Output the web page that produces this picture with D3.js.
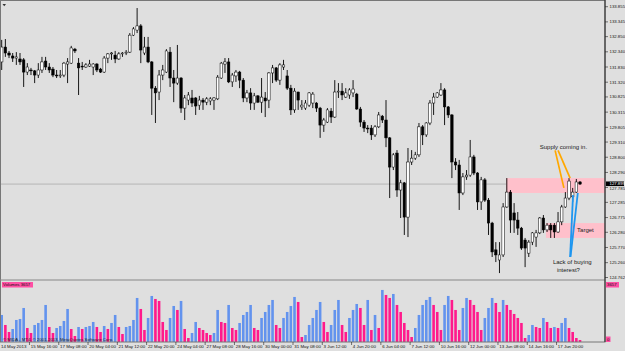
<!DOCTYPE html>
<html>
<head>
<meta charset="utf-8">
<script src="https://cdnjs.cloudflare.com/ajax/libs/d3/7.8.5/d3.min.js"></script>
<style>
	body { margin: 0; background: #dfdfdf; }
	svg { display: block; font-family: "Liberation Sans", Arial, sans-serif; }
</style>
</head>
<body>
<svg id="chart" width="625" height="351"></svg>
<script>
// USDJPY-ish H4 candles, 14 May - 17 Jun 2013
let open = [132.00,132.50,132.30,132.20,132.13,132.10,132.07,131.66,131.73,131.70,
	131.56,131.73,132.03,131.83,131.76,131.56,131.53,131.56,131.93,131.96,
	132.43,131.96,131.86,131.83,131.86,131.83,131.93,131.76,131.66,132.13,
	132.27,132.23,132.10,132.27,132.30,132.33,132.90,133.07,133.21,132.30,
	132.50,132.00,131.12,130.99,131.56,131.66,132.33,131.46,131.29,131.46,
	130.45,130.72,130.79,130.79,130.55,130.72,130.65,130.69,130.72,130.76,
	131.46,131.93,132.00,131.33,131.53,131.66,131.39,130.79,130.96,130.62,
	130.86,130.65,130.79,130.72,131.63,131.80,131.39,131.83,131.53,131.12,
	130.39,130.99,130.49,130.45,130.55,130.62,130.62,130.45,129.88,129.98,
	130.35,130.15,130.99,131.02,130.82,130.89,130.96,130.92,130.42,129.98,
	129.78,129.78,129.55,129.82,130.18,130.05,129.45,128.47,128.94,127.70,
	127.94,126.79,128.64,128.77,128.88,129.82,129.55,129.95,130.62,130.82,
	130.89,131.06,130.49,130.22,128.64,128.54,127.60,128.14,128.20,128.81,
	128.27,127.30,128.04,127.36,126.59,125.69,125.35,125.52,127.13,127.63,
	126.93,126.69,126.42,126.02,125.58,125.95,126.12,126.26,126.76,126.36,
	126.52,126.52,126.29,126.63,127.13,127.43,127.47,127.63,127.97];

let high = [132.74,132.77,132.37,132.30,132.33,132.30,132.13,131.96,131.80,131.73,
	131.96,132.17,132.17,131.96,131.83,131.73,131.73,132.00,132.13,132.54,
	132.47,132.13,132.00,131.96,132.07,131.96,131.96,131.80,132.20,132.30,
	132.33,132.37,132.33,132.33,132.40,132.97,133.17,133.81,133.27,132.84,
	132.84,132.03,131.19,131.73,131.90,132.43,132.50,131.73,132.57,131.49,
	130.89,130.99,131.06,130.82,130.86,130.79,130.82,130.82,130.82,131.56,
	132.00,132.13,132.13,131.63,131.73,131.70,131.46,131.06,131.12,130.96,
	130.89,131.46,130.99,131.66,131.90,131.83,131.96,132.07,131.73,131.23,
	131.12,131.00,130.72,130.72,130.99,130.99,130.65,130.49,130.12,130.45,
	130.45,131.39,131.29,131.29,131.12,131.12,131.39,130.96,130.49,130.05,
	129.88,129.88,129.88,130.32,130.22,130.72,129.48,128.94,129.04,128.04,
	127.97,129.11,129.04,128.98,129.95,129.88,129.98,130.72,130.96,130.99,
	131.29,131.12,130.52,130.25,128.77,128.71,128.27,128.37,129.38,128.88,
	128.30,128.14,128.10,127.43,126.63,125.95,125.95,127.26,128.10,127.70,
	127.26,126.96,126.46,126.09,126.02,126.29,126.36,126.79,126.86,126.59,
	126.59,126.59,126.96,127.20,127.63,128.10,127.77,128.07,128.00];

let low = [131.73,132.17,132.13,132.00,131.90,131.90,131.16,131.56,131.56,131.29,
	131.46,131.63,131.73,131.63,131.49,131.46,131.46,131.49,131.29,131.93,
	132.30,130.89,131.73,131.80,131.83,131.56,131.66,131.63,131.63,131.96,
	132.07,131.96,132.07,132.17,132.23,132.30,132.87,132.97,131.96,132.23,
	131.96,130.22,129.95,130.72,131.39,131.63,131.16,130.65,131.23,130.29,
	130.05,130.55,130.49,130.22,130.39,130.39,130.55,130.55,130.39,130.72,
	131.43,131.63,131.29,131.16,131.33,131.12,130.65,130.65,130.39,130.39,
	130.62,130.29,130.15,130.45,131.29,131.33,131.23,131.73,131.06,130.22,
	130.29,130.39,130.39,130.39,130.49,130.45,130.32,129.45,129.65,129.95,
	129.95,130.12,130.79,130.72,130.79,130.76,130.82,130.39,129.82,129.65,
	129.61,129.38,129.48,129.78,129.95,129.14,127.43,128.37,127.47,126.76,
	126.19,126.12,128.54,128.71,128.81,129.21,129.48,129.88,130.22,130.79,
	130.86,129.88,130.12,128.10,128.37,127.03,127.53,128.04,128.14,128.20,
	127.03,127.03,127.30,126.19,125.45,125.28,124.91,125.45,127.10,126.26,
	126.26,126.19,125.69,125.11,125.45,125.85,125.79,126.22,126.26,126.29,
	126.09,126.09,126.26,126.52,127.10,127.36,127.30,127.60,127.87];

let close = [132.50,132.30,132.23,132.13,132.17,132.00,131.66,131.83,131.70,131.56,
	131.73,132.00,131.83,131.73,131.56,131.53,131.56,131.96,132.00,132.47,
	132.37,131.80,131.83,131.90,131.93,131.93,131.73,131.66,132.13,132.27,
	132.30,132.10,132.27,132.30,132.33,132.90,133.11,133.21,132.40,132.50,
	132.00,131.12,130.96,131.56,131.73,132.37,131.46,131.29,131.46,130.45,
	130.79,130.89,130.62,130.52,130.72,130.65,130.76,130.76,130.79,131.49,
	131.96,132.00,131.33,131.56,131.66,131.39,130.79,130.96,130.62,130.86,
	130.65,130.82,130.69,131.63,131.80,131.39,131.90,131.90,131.12,130.39,
	131.02,130.72,130.55,130.62,130.96,130.92,130.45,129.88,130.05,130.39,
	130.15,130.99,131.02,130.89,130.96,131.06,131.09,130.42,129.98,129.78,
	129.75,129.55,129.82,130.22,130.05,129.45,128.47,128.88,127.70,127.94,
	126.79,128.64,128.77,128.88,129.82,129.55,129.95,130.62,130.82,130.96,
	131.06,130.49,130.22,128.64,128.54,127.60,128.14,128.20,128.81,128.27,
	127.30,128.04,127.36,126.59,125.62,125.52,125.52,127.13,127.63,126.69,
	126.69,126.42,125.75,125.75,125.95,126.26,126.26,126.76,126.36,126.52,
	126.36,126.29,126.63,127.13,127.43,128.00,127.63,127.97,127.90];

let volume = [1620,1020,600,780,1320,1380,2040,840,540,1020,
	1140,1320,2220,900,540,840,960,1260,1980,780,
	360,900,780,900,960,1200,900,600,960,780,
	1140,1620,900,480,900,960,1320,2640,1980,720,
	1440,2760,2580,2460,1200,720,1440,2160,1920,2460,
	780,240,540,1200,840,720,540,420,540,1920,
	1200,1140,2220,840,720,1140,1620,1800,2220,840,
	720,1440,1800,2220,2520,1020,840,1440,1800,2160,
	2700,2400,300,420,1020,1440,1920,2400,1200,600,
	1020,1920,2520,1020,600,1440,1920,2280,2040,1020,
	2520,720,1620,840,3120,2820,2640,2880,2220,1800,
	1140,720,300,840,1620,2220,2520,2700,2220,1800,
	720,2220,2760,2520,1920,720,2040,2640,2520,2220,
	1800,720,1440,2040,2640,2340,1800,2520,2220,1920,
	1680,1440,1140,240,420,1020,900,840,1440,1200,
	840,900,840,1140,1440,840,600,240,120];

// one time label every 8 bars
let timeLabels = ["14 May 2013","15 May 16:00","17 May 08:00","20 May 04:00","21 May 12:00",
	"22 May 20:00","24 May 04:00","27 May 08:00","28 May 16:00","30 May 00:00",
	"31 May 08:00","3 Jun 12:00","4 Jun 20:00","6 Jun 04:00","7 Jun 12:00",
	"10 Jun 16:00","12 Jun 00:00","13 Jun 08:00","14 Jun 16:00","17 Jun 20:00"];

let priceTicks = [133.855,133.345,132.850,132.340,131.830,131.320,130.825,130.315,129.805,
	129.310,128.800,128.290,127.785,127.285,126.775,126.280,125.770,125.260,124.762];

let lastPrice = 127.899;
let volMax = 3657;

// zones drawn on the chart (bar index where they start, price top/bottom)
let supplyZone = {from: 137.8, top: 128.10, bottom: 127.60};
let targetZone = {from: 148.7, top: 126.59, bottom: 126.09};

let axisX = 605;
let mainH = 279;
let volTop = 281, volBot = 342;

let x = d3.scaleLinear().domain([0, close.length - 1]).range([1.7, 580]);
let y = d3.scaleLinear().domain([124.762, 133.855]).range([277.5, 6.7]);
let yv = d3.scaleLinear().domain([0, volMax]).range([volBot, volTop]);

let bars = close.map((c, i) => ({i: i, o: open[i], h: high[i], l: low[i], c: c, v: volume[i]}));

// tiny MT4 fonts: draw at double size and scale down, hinting makes small sizes too wide
function tiny(px, py) { return `translate(${px},${py}) scale(0.5)`; }

let svg = d3.select("#chart");
svg.append("rect").attr("width", 625).attr("height", 351).attr("fill", "#dfdfdf");

svg.append("defs").append("clipPath").attr("id", "clipMain")
	.append("rect").attr("width", axisX).attr("height", mainH);

let main = svg.append("g").attr("clip-path", "url(#clipMain)");

// bid line
main.append("line")
	.attr("x1", 0).attr("x2", axisX)
	.attr("y1", y(lastPrice)).attr("y2", y(lastPrice))
	.attr("stroke", "#a9a9a9").attr("stroke-width", 0.8);

main.selectAll("rect.zone")
	.data([supplyZone, targetZone])
	.join("rect")
		.attr("class", "zone")
		.attr("x", d => x(d.from))
		.attr("width", d => axisX - x(d.from))
		.attr("y", d => y(d.top))
		.attr("height", d => y(d.bottom) - y(d.top))
		.attr("fill", "#ffc0cb");

let bw = 2.5;
main.selectAll("g.candle")
	.data(bars)
	.join("g")
		.attr("class", "candle")
		.html(d => {
			let cx = x(d.i);
			let top = y(Math.max(d.o, d.c));
			let bh = Math.max(Math.abs(y(d.o) - y(d.c)), 0.7);
			let up = d.c >= d.o;
			return `<line x1="${cx}" x2="${cx}" y1="${y(d.h)}" y2="${y(d.l)}" stroke="#000" stroke-width="0.9"/>
				<rect x="${cx - bw/2}" y="${top}" width="${bw}" height="${bh}"
					fill="${up ? "#fff" : "#000"}" stroke="#000" stroke-width="0.5"/>`;
		});

// hand drawn arrows, in bar / price coordinates
let supplyArrows = [[[151.2, 129.03], [153.6, 127.77]], [[152.0, 129.03], [155.3, 128.10]]];
let lackArrows = [[[155.3, 125.45], [156.1, 127.53]], [[155.4, 125.45], [157.4, 127.60]]];

main.selectAll("line.orange")
	.data(supplyArrows)
	.join("line")
		.attr("x1", d => x(d[0][0])).attr("y1", d => y(d[0][1]))
		.attr("x2", d => x(d[1][0])).attr("y2", d => y(d[1][1]))
		.attr("stroke", "#ffa800").attr("stroke-width", 1.7);

main.selectAll("line.blue")
	.data(lackArrows)
	.join("line")
		.attr("x1", d => x(d[0][0])).attr("y1", d => y(d[0][1]))
		.attr("x2", d => x(d[1][0])).attr("y2", d => y(d[1][1]))
		.attr("stroke", "#1e96f0").attr("stroke-width", 1.8);

let notes = [
	{t: "Supply coming in.", b: 147.0, p: 129.07},
	{t: "Target", b: 157.2, p: 126.28},
	{t: "Lack of buying", b: 150.6, p: 125.23},
	{t: "interest?", b: 151.7, p: 124.93}
];
main.selectAll("text.note")
	.data(notes)
	.join("text")
		.attr("transform", d => tiny(x(d.b), y(d.p)))
		.attr("font-size", 12).attr("fill", "#1a1a1a")
		.text(d => d.t);

// shift marker
svg.append("path").attr("d", "M2.5,4 L6,4 L4.25,6.2 Z").attr("fill", "#333");

// volumes
svg.selectAll("rect.vol")
	.data(bars)
	.join("rect")
		.attr("class", "vol")
		.attr("x", d => x(d.i) - 1.3)
		.attr("width", 2.6)
		.attr("y", d => yv(d.v))
		.attr("height", d => volBot - yv(d.v))
		.attr("fill", (d, i) => (i == 0 || d.v > volume[i - 1]) ? "#6393ee" : "#ff1a8c");

svg.append("text").attr("transform", tiny(3, 340.6)).attr("font-size", 8.6).attr("fill", "#222")
	.text("\u00a9 MIDA - MT4, \u00a9 2001-2013, MetaQuotes Software Corp.");

// frames
svg.append("rect").attr("x", 0.5).attr("y", 0.5).attr("width", axisX - 0.5).attr("height", volBot - 0.5)
	.attr("fill", "none").attr("stroke", "#777").attr("stroke-width", 1);
svg.append("line").attr("x1", 0).attr("x2", axisX).attr("y1", 280).attr("y2", 280)
	.attr("stroke", "#888").attr("stroke-width", 1.2);
svg.append("line").attr("x1", axisX).attr("x2", axisX).attr("y1", 0).attr("y2", volBot)
	.attr("stroke", "#222").attr("stroke-width", 1);

// price axis
let pa = svg.append("g").attr("font-size", 8.6).attr("fill", "#111");
pa.selectAll("line")
	.data(priceTicks)
	.join("line")
		.attr("x1", axisX).attr("x2", axisX + 3)
		.attr("y1", d => y(d)).attr("y2", d => y(d))
		.attr("stroke", "#222").attr("stroke-width", 0.6);
// the label just under the bid box sits a bit lower, as in MT4
pa.selectAll("text")
	.data(priceTicks)
	.join("text")
		.attr("transform", d => {
			let ty = Math.min(y(d) + 1.5, mainH);
			if (y(d) > y(lastPrice) && y(d) - y(lastPrice) < 5) ty = y(lastPrice) + 6.2;
			return tiny(axisX + 4.5, ty);
		})
		.text(d => d.toFixed(3));

pa.append("rect").attr("x", axisX + 1).attr("y", y(lastPrice) - 2.6).attr("width", 18).attr("height", 4.6).attr("fill", "#000");
pa.append("text").attr("transform", tiny(axisX + 4.5, y(lastPrice) + 1.4)).attr("fill", "#fff").text(lastPrice.toFixed(3));

// time axis
let ta = svg.append("g").attr("font-size", 8.8).attr("fill", "#111");
ta.selectAll("line")
	.data(timeLabels.slice(1))
	.join("line")
		.attr("x1", (d, k) => x((k + 1) * 8) - 1.5).attr("x2", (d, k) => x((k + 1) * 8) - 1.5)
		.attr("y1", volBot).attr("y2", volBot + 3)
		.attr("stroke", "#222").attr("stroke-width", 0.6);
ta.selectAll("text")
	.data(timeLabels)
	.join("text")
		.attr("transform", (d, k) => tiny(k == 0 ? 1 : x(k * 8) - 0.2, volBot + 6.3))
		.text(d => d);

// volume window labels
let vl = svg.append("g").attr("font-size", 8.6).attr("fill", "#111");
vl.append("rect").attr("x", 2).attr("y", 282).attr("width", 31).attr("height", 5.5).attr("fill", "#ff4fa3");
vl.append("text").attr("transform", tiny(3, 286.4)).text("Volumes " + volMax);
vl.append("rect").attr("x", axisX + 1).attr("y", 282).attr("width", 13).attr("height", 5.5).attr("fill", "#ff4fa3");
vl.append("text").attr("transform", tiny(axisX + 2, 286.4)).text(volMax);
vl.append("rect").attr("x", axisX + 1).attr("y", 336.5).attr("width", 4.5).attr("height", 5.5).attr("fill", "#ff4fa3");
vl.append("text").attr("transform", tiny(axisX + 2, 340.9)).text("0");
</script>
</body>
</html>
